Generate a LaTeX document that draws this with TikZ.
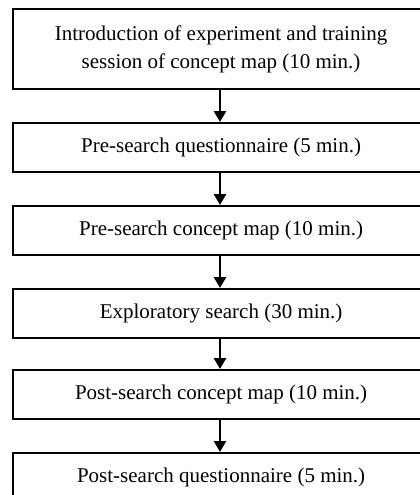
\documentclass[tikz,border=0pt]{standalone}
\usepackage{fontspec}
\setmainfont{Liberation Serif}
\usetikzlibrary{arrows.meta}
\begin{document}
\begin{tikzpicture}[x=1pt,y=-1pt,
  stepbox/.style={draw=black, line width=2.2pt, minimum width=416pt, inner sep=0pt, align=center, font=\fontsize{21}{28}\selectfont, anchor=north west},
  flow/.style={line width=2.6pt, -{Triangle[width=12pt,length=11pt]}}]
\useasboundingbox (0,0) rectangle (420,495);
\begin{scope}
\clip (0,0) rectangle (420,495);
\node[stepbox, minimum height=80pt] (b1) at (12,8) {Introduction of experiment and training\\session of concept map (10 min.)};
\node[stepbox, minimum height=49pt] (b2) at (12,122) {Pre-search questionnaire (5 min.)};
\node[stepbox, minimum height=49pt] (b3) at (12,205) {Pre-search concept map (10 min.)};
\node[stepbox, minimum height=49pt] (b4) at (12,288) {Exploratory search (30 min.)};
\node[stepbox, minimum height=49pt] (b5) at (12,369) {Post-search concept map (10 min.)};
\node[stepbox, minimum height=49pt] (b6) at (12,452) {Post-search questionnaire (5 min.)};
\end{scope}
\foreach \a/\b in {b1/b2,b2/b3,b3/b4,b4/b5,b5/b6}
  \draw[flow] (\a.south -| 220,0) -- (\b.north -| 220,0);
\end{tikzpicture}
\end{document}
